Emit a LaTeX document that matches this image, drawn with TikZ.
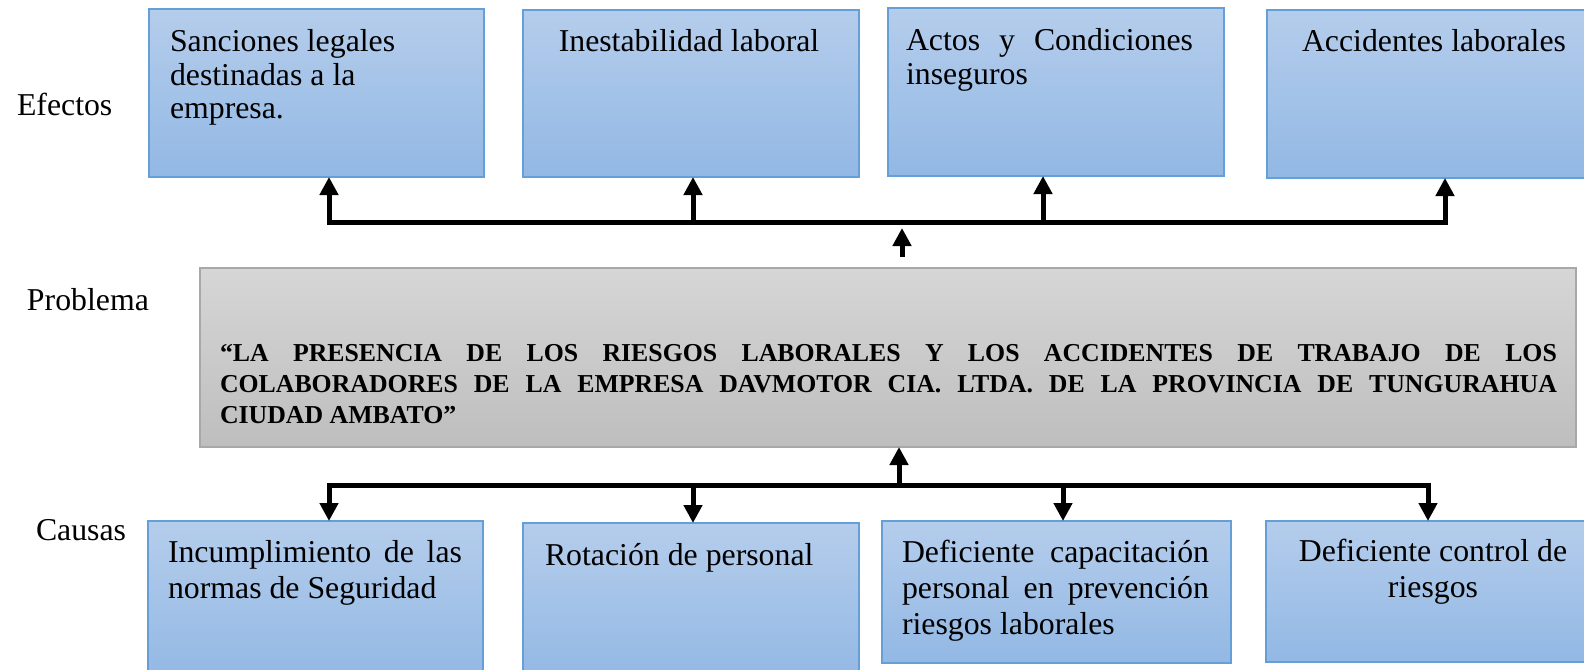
\documentclass[tikz,border=0pt]{standalone}
\usepackage{fontspec}
\setmainfont{Liberation Serif}
\usetikzlibrary{arrows.meta}
\definecolor{boxtop}{RGB}{181,205,236}
\definecolor{boxbot}{RGB}{146,184,228}
\definecolor{boxline}{RGB}{100,160,215}
\definecolor{graytop}{RGB}{214,214,214}
\definecolor{graybot}{RGB}{190,190,190}
\definecolor{grayline}{RGB}{168,168,168}
\newcommand{\mainsize}{\fontsize{31.8}{36}\selectfont}
\newcommand{\topsize}{\fontsize{31.8}{33.4}\selectfont}
\newcommand{\probsize}{\fontsize{25.8}{31.3}\selectfont\bfseries}
\begin{document}
\begin{tikzpicture}[x=1pt,y=-1pt,
 bluebox/.style={draw=boxline, line width=1.2pt, top color=boxtop, bottom color=boxbot, inner sep=0pt, outer sep=0pt, anchor=north west},
 graybox/.style={draw=grayline, line width=1.2pt, top color=graytop, bottom color=graybot, inner sep=0pt, outer sep=0pt, anchor=north west},
 txt/.style={inner sep=0pt, outer sep=0pt, font=\mainsize},
 ttxt/.style={inner sep=0pt, outer sep=0pt, font=\topsize},
 ptxt/.style={inner sep=0pt, outer sep=0pt, font=\probsize},
 conn/.style={line width=5pt, -{Triangle[length=18pt,width=18pt]}},
 bar/.style={line width=5pt, line cap=rect}
]
\useasboundingbox (0,0) rectangle (1584,669);
\fill[white] (0,0) rectangle (1584,669);
\clip (0,0) rectangle (1584,669);

% effect boxes
\node[bluebox, minimum width=335pt, minimum height=168pt] (e1) at (149,9) {};
\node[bluebox, minimum width=336pt, minimum height=167pt] (e2) at (523,10) {};
\node[bluebox, minimum width=336pt, minimum height=168pt] (e3) at (888,8) {};
\node[bluebox, minimum width=336pt, minimum height=168pt] (e4) at (1267,10) {};
% problem box
\node[graybox, minimum width=1376pt, minimum height=179pt] (p) at (200,268) {};
% cause boxes
\node[bluebox, minimum width=335pt, minimum height=160pt] (c1) at (148,521) {};
\node[bluebox, minimum width=336pt, minimum height=160pt] (c2) at (523,523) {};
\node[bluebox, minimum width=349pt, minimum height=142pt] (c3) at (882,521) {};
\node[bluebox, minimum width=336pt, minimum height=141pt] (c4) at (1266,521) {};

% side labels
\node[txt, anchor=base west] (lef) at (17,115) {Efectos};
\node[txt, anchor=base west] (lpr) at (27,310) {Problema};
\node[txt, anchor=base west] (lca) at (36,540) {Causas};

% effect texts
\node[ttxt, anchor=base west] (te1) at (170,52) {\parbox[t]{310pt}{\raggedright Sanciones legales\\destinadas a la\\empresa.}};
\node[ttxt, anchor=base] (te2) at (689,52) {Inestabilidad laboral};
\node[ttxt, anchor=base west] (te3) at (906,51) {\parbox[t]{287pt}{\makebox[287pt][s]{Actos y Condiciones}\\inseguros}};
\node[ttxt, anchor=base] (te4) at (1434,52) {Accidentes laborales};

% problem text
\node[ptxt, anchor=base west] (tp) at (220,361) {\parbox[t]{1337pt}{\makebox[1337pt][s]{“LA PRESENCIA DE LOS RIESGOS LABORALES Y LOS ACCIDENTES DE TRABAJO DE LOS}\\\makebox[1337pt][s]{COLABORADORES DE LA EMPRESA DAVMOTOR CIA. LTDA. DE LA PROVINCIA DE TUNGURAHUA}\\CIUDAD AMBATO”}};

% cause texts
\node[txt, anchor=base west] (tc1) at (168,562) {\parbox[t]{294pt}{\makebox[294pt][s]{Incumplimiento de las}\\normas de Seguridad}};
\node[txt, anchor=base west] (tc2) at (545,565) {Rotación de personal};
\node[txt, anchor=base west] (tc3) at (902,562) {\parbox[t]{307pt}{\makebox[307pt][s]{Deficiente capacitación}\\\makebox[307pt][s]{personal en prevención}\\riesgos laborales}};
\node[txt, anchor=base] (tc4) at (1433,561) {\parbox[t]{320pt}{\centering Deficiente control de\\riesgos}};

% upper connectors
\coordinate (j1) at (329,222);
\coordinate (j2) at (693,222);
\coordinate (j3) at (1043,222);
\coordinate (j4) at (1445,222);
\draw[bar] (j1) -- (j4);
\draw[conn] (j1) -- (j1 |- e1.south);
\draw[conn] (j2) -- (j2 |- e2.south);
\draw[conn] (j3) -- (j3 |- e3.south);
\draw[conn] (j4) -- (j4 |- e4.south);
\coordinate (u0) at (902,257);
\coordinate (u1) at (902,228);
\draw[conn] (u0) -- (u1);

% lower connectors
\coordinate (k1) at (329,485);
\coordinate (k2) at (693,485);
\coordinate (k3) at (1063,485);
\coordinate (k4) at (1428,485);
\coordinate (k0) at (899,485);
\draw[bar] (k1) -- (k4);
\draw[conn] (k0) -- (k0 |- p.south);
\draw[conn] (k1) -- (k1 |- c1.north);
\draw[conn] (k2) -- (k2 |- c2.north);
\draw[conn] (k3) -- (k3 |- c3.north);
\draw[conn] (k4) -- (k4 |- c4.north);
\end{tikzpicture}
\end{document}
